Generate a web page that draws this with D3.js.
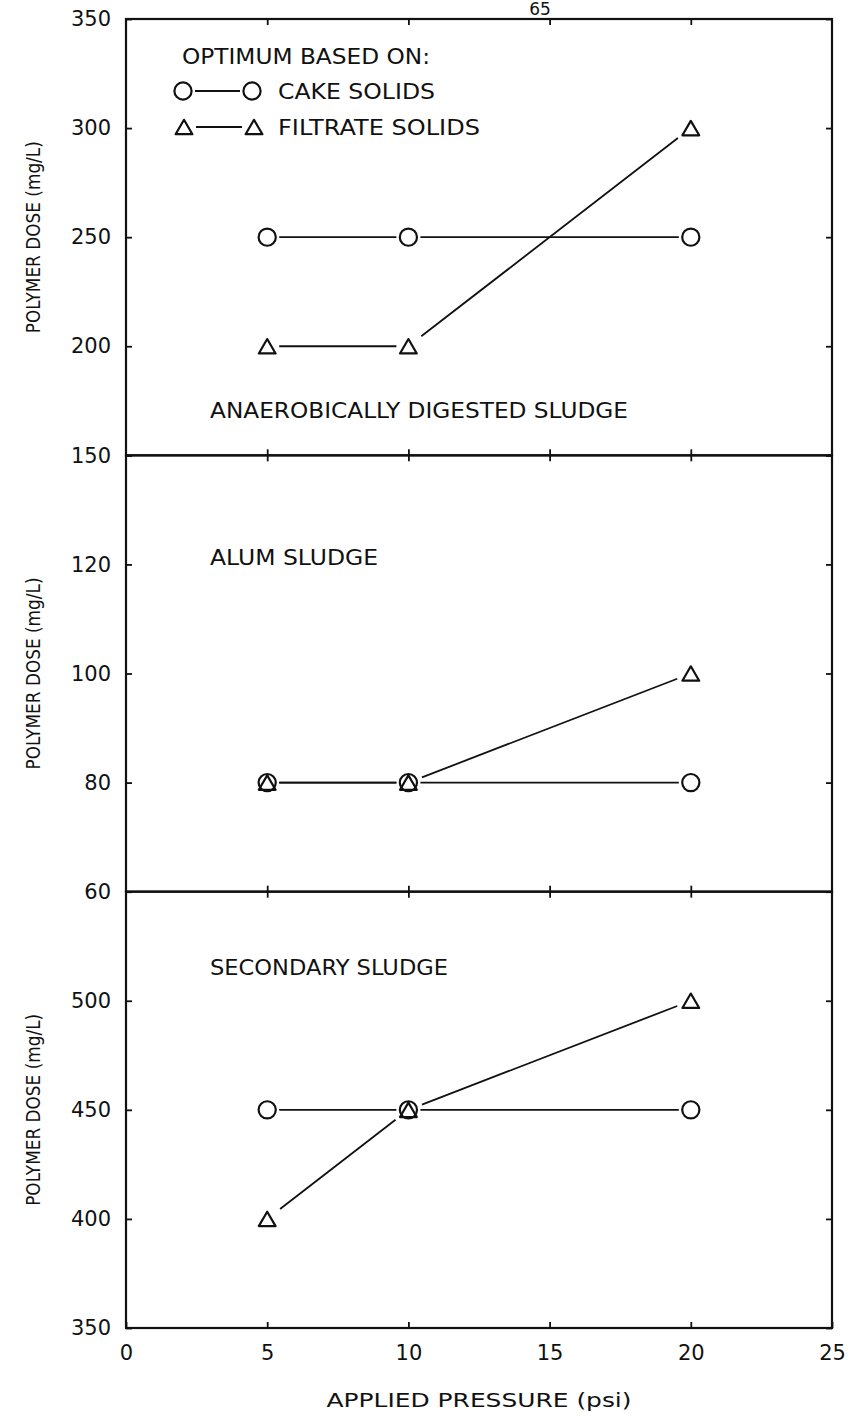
<!DOCTYPE html>
<html>
<head>
<meta charset="utf-8">
<script src="https://cdn.jsdelivr.net/npm/d3@7"></script>
<style>
  html, body { margin: 0; padding: 0; background: #fff; }
  svg { display: block; }
  text { font-family: "DejaVu Sans", sans-serif; fill: #111; }
</style>
</head>
<body>
<svg id="chart" width="851" height="1416"></svg>
<script>
// Applied pressure (psi) at which each optimum dose was determined
const pressures = [5, 10, 20];
const xTickValues = [0, 5, 10, 15, 20, 25];

// Panel titles, top to bottom
const sludgeTypes = ["ANAEROBICALLY DIGESTED SLUDGE", "ALUM SLUDGE", "SECONDARY SLUDGE"];

// Optimum polymer dose (mg/L) based on cake solids
const cakeSolidsAnaerobic = [250, 250, 250];
const cakeSolidsAlum = [80, 80, 80];
const cakeSolidsSecondary = [450, 450, 450];

// Optimum polymer dose (mg/L) based on filtrate solids
const filtrateSolidsAnaerobic = [200, 200, 300];
const filtrateSolidsAlum = [80, 80, 100];
const filtrateSolidsSecondary = [400, 450, 500];

// Y ranges and labelled ticks for each panel
const yDomains = [[150, 350], [60, 140], [350, 550]];
const yTickValues = [[150, 200, 250, 300, 350], [60, 80, 100, 120, 140], [350, 400, 450, 500, 550]];
const yTickLabels = [[150, 200, 250, 300, 350], [60, 80, 100, 120], [350, 400, 450, 500]];

const cakeSeries = [cakeSolidsAnaerobic, cakeSolidsAlum, cakeSolidsSecondary];
const filtrateSeries = [filtrateSolidsAnaerobic, filtrateSolidsAlum, filtrateSolidsSecondary];

const svg = d3.select("#chart");
const plotLeft = 126, plotRight = 832, plotTop = 19, plotBottom = 1328;
const panelH = (plotBottom - plotTop) / 3;
const ink = "#111";

const x = d3.scaleLinear().domain([0, 25]).range([plotLeft, plotRight]);

// Page number
svg.append("text").attr("x", 540).attr("y", 15).attr("text-anchor", "middle")
  .attr("font-size", 17).text("65");

// Open circle and open triangle markers
function circle(g, cx, cy) {
  g.append("circle").attr("cx", cx).attr("cy", cy).attr("r", 8.6)
    .attr("fill", "none").attr("stroke", ink).attr("stroke-width", 2.2);
}
function triangle(g, cx, cy) {
  const w = 8.4, h = 7.2;
  g.append("path")
    .attr("d", `M${cx},${cy - h}L${cx + w},${cy + h}L${cx - w},${cy + h}Z`)
    .attr("fill", "none").attr("stroke", ink).attr("stroke-width", 2.2)
    .attr("stroke-linejoin", "round");
}
// Connecting segment that stops short of both markers
function gapLine(g, x1, y1, x2, y2) {
  const dx = x2 - x1, dy = y2 - y1, len = Math.hypot(dx, dy);
  const trim = 12 + 7 * Math.abs(dy / len);
  const ux = dx / len, uy = dy / len;
  g.append("line")
    .attr("x1", x1 + ux * trim).attr("y1", y1 + uy * trim)
    .attr("x2", x2 - ux * trim).attr("y2", y2 - uy * trim)
    .attr("stroke", ink).attr("stroke-width", 1.8);
}

sludgeTypes.forEach((name, i) => {
  const y0 = plotTop + i * panelH, y1 = y0 + panelH;
  const y = d3.scaleLinear().domain(yDomains[i]).range([y1, y0]);
  const g = svg.append("g");

  // Left axis with labels, ticks pointing inward
  const labelSet = new Set(yTickLabels[i]);
  const la = g.append("g").attr("transform", `translate(${plotLeft},0)`)
    .call(d3.axisLeft(y).tickValues(yTickValues[i]).tickSizeInner(-6).tickSizeOuter(0)
      .tickPadding(15).tickFormat(d => labelSet.has(d) ? d : ""));
  // Right axis, inward ticks only
  const ra = g.append("g").attr("transform", `translate(${plotRight},0)`)
    .call(d3.axisRight(y).tickValues(yTickValues[i]).tickSizeInner(-6).tickSizeOuter(0).tickFormat(""));
  // Top and bottom edges, inward ticks
  const ta = g.append("g").attr("transform", `translate(0,${y0})`)
    .call(d3.axisTop(x).tickValues([5, 10, 15, 20]).tickSizeInner(-6).tickSizeOuter(0).tickFormat(""));
  const ba = g.append("g").attr("transform", `translate(0,${y1})`)
    .call(d3.axisBottom(x).tickValues(i === 2 ? xTickValues : [5, 10, 15, 20])
      .tickSizeInner(-6).tickSizeOuter(0).tickPadding(17)
      .tickFormat(d => i === 2 ? d : ""));
  [la, ra, ta, ba].forEach(a => {
    a.select(".domain").remove();
    a.selectAll(".tick line").attr("stroke", ink).attr("stroke-width", 1.8);
    a.selectAll(".tick text").attr("font-size", 21).attr("fill", ink)
      .style("font-family", "'DejaVu Sans', sans-serif");
  });

  // Panel frame
  g.append("rect").attr("x", plotLeft).attr("y", y0).attr("width", plotRight - plotLeft).attr("height", panelH)
    .attr("fill", "none").attr("stroke", ink).attr("stroke-width", 2.2);

  // Y axis title
  g.append("text")
    .attr("transform", `translate(40,${(y0 + y1) / 2}) rotate(-90)`)
    .attr("text-anchor", "middle").attr("font-size", 20)
    .attr("textLength", 192).attr("lengthAdjust", "spacingAndGlyphs")
    .text("POLYMER DOSE (mg/L)");

  // Panel title
  const titleY = [418, 565, 975][i];
  const titleW = [418, 168, 238][i];
  g.append("text").attr("x", 210).attr("y", titleY).attr("font-size", 21)
    .attr("textLength", titleW).attr("lengthAdjust", "spacingAndGlyphs").text(name);

  // Series: lines first, then markers
  const cake = cakeSeries[i], filt = filtrateSeries[i];
  for (let k = 0; k < pressures.length - 1; k++) {
    gapLine(g, x(pressures[k]), y(cake[k]), x(pressures[k + 1]), y(cake[k + 1]));
    gapLine(g, x(pressures[k]), y(filt[k]), x(pressures[k + 1]), y(filt[k + 1]));
  }
  pressures.forEach((p, k) => {
    circle(g, x(p), y(cake[k]));
    triangle(g, x(p), y(filt[k]));
  });
});

// Legend
const lg = svg.append("g");
lg.append("text").attr("x", 182).attr("y", 64).attr("font-size", 22)
  .attr("textLength", 248).attr("lengthAdjust", "spacingAndGlyphs").text("OPTIMUM BASED ON:");
circle(lg, 183, 91); circle(lg, 252, 91);
gapLine(lg, 183, 91, 252, 91);
lg.append("text").attr("x", 278).attr("y", 99).attr("font-size", 22)
  .attr("textLength", 157).attr("lengthAdjust", "spacingAndGlyphs").text("CAKE SOLIDS");
triangle(lg, 184, 127); triangle(lg, 254, 127);
gapLine(lg, 184, 127, 254, 127);
lg.append("text").attr("x", 278).attr("y", 135).attr("font-size", 22)
  .attr("textLength", 202).attr("lengthAdjust", "spacingAndGlyphs").text("FILTRATE SOLIDS");

// X axis title
svg.append("text").attr("x", (plotLeft + plotRight) / 2).attr("y", 1407).attr("text-anchor", "middle")
  .attr("font-size", 20).attr("textLength", 305).attr("lengthAdjust", "spacingAndGlyphs")
  .text("APPLIED PRESSURE (psi)");
</script>
</body>
</html>
